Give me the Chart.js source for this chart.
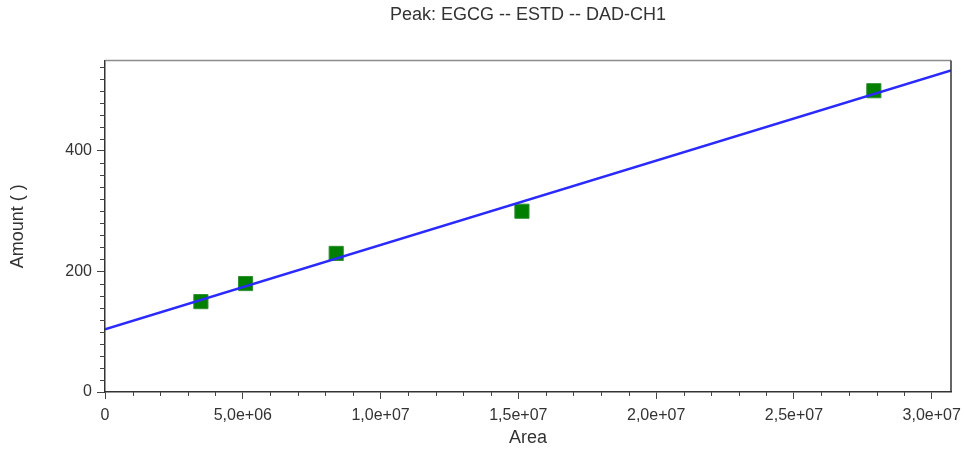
<!DOCTYPE html>
<html>
<head>
<meta charset="utf-8">
<script src="https://cdn.jsdelivr.net/npm/chart.js@4/dist/chart.umd.min.js"></script>
<style>
  html, body { margin: 0; padding: 0; background: #fff; }
  #wrap { width: 964px; height: 450px; }
</style>
</head>
<body>
<div id="wrap"><canvas id="calChart"></canvas></div>
<script>
// calibration points (area vs amount)
const areas = [3.48e6, 5.1e6, 8.39e6, 1.513e7, 2.79e7];
const amounts = [150, 180, 230, 300, 500];
// regression line, read at the two edges of the plot
const fitAreas = [0, 3.07e7];
const fitAmounts = [104, 533.5];
// labelled ticks
const xTicks = [0, 5e6, 1e7, 1.5e7, 2e7, 2.5e7, 3e7];
const xTickLabels = ['0', '5,0e+06', '1,0e+07', '1,5e+07', '2,0e+07', '2,5e+07', '3,0e+07'];
const yTicks = [0, 200, 400];

const xMax = 3.07e7;
const yMax = 550;

const frameAndMinor = {
    id: 'frameAndMinor',
    afterDraw(chart) {
        const ctx = chart.ctx;
        const a = chart.chartArea;
        const xs = chart.scales.x, ys = chart.scales.y;
        ctx.save();
        // top and right frame
        ctx.strokeStyle = '#8c8c8c';
        ctx.lineWidth = 1.5;
        ctx.beginPath();
        ctx.moveTo(a.left, a.top);
        ctx.lineTo(a.right, a.top);
        ctx.stroke();
        ctx.strokeStyle = '#333';
        ctx.beginPath();
        ctx.moveTo(a.right, a.top);
        ctx.lineTo(a.right, a.bottom);
        ctx.stroke();
        // minor ticks
        ctx.strokeStyle = '#444';
        ctx.lineWidth = 1;
        ctx.beginPath();
        for (let v = 1e6; v < xMax; v += 1e6) {
            if (Math.round(v / 1e6) % 5 === 0) continue;
            const px = Math.round(xs.getPixelForValue(v)) + 0.5;
            ctx.moveTo(px, a.bottom);
            ctx.lineTo(px, a.bottom + 4);
        }
        for (let v = 20; v < yMax; v += 20) {
            if (v % 200 === 0) continue;
            const py = Math.round(ys.getPixelForValue(v)) + 0.5;
            ctx.moveTo(a.left, py);
            ctx.lineTo(a.left - 5, py);
        }
        ctx.stroke();
        ctx.restore();
    }
};

const fam = 'Liberation Sans, Arial, sans-serif';
const tickFont = { family: fam, size: 16 };

new Chart(document.getElementById('calChart'), {
    type: 'scatter',
    data: {
        datasets: [{
            type: 'line',
            label: 'fit',
            data: fitAreas.map((x, i) => ({ x: x, y: fitAmounts[i] })),
            borderColor: '#2a2aff',
            borderWidth: 2.5,
            pointRadius: 0,
            fill: false
        }, {
            label: 'EGCG',
            data: areas.map((x, i) => ({ x: x, y: amounts[i] })),
            pointStyle: 'rect',
            pointRadius: 10,
            pointHoverRadius: 10,
            backgroundColor: '#007f00',
            borderColor: '#2f8f2f',
            borderWidth: 1
        }]
    },
    options: {
        responsive: true,
        maintainAspectRatio: false,
        animation: false,
        layout: { padding: { left: 0, right: 13, top: 0, bottom: 0 } },
        scales: {
            x: {
                type: 'linear',
                min: 0,
                max: xMax,
                afterFit: s => { s.height = 58; s.paddingRight = 0; s.paddingLeft = 0; },
                afterBuildTicks: s => { s.ticks = xTicks.map(v => ({ value: v })); },
                ticks: {
                    maxRotation: 0,
                    autoSkip: false,
                    color: '#333',
                    font: tickFont,
                    padding: 7,
                    callback: v => xTickLabels[xTicks.indexOf(v)]
                },
                grid: { drawOnChartArea: false, tickLength: 7, tickColor: '#444' },
                border: { color: '#333', width: 1.5 },
                title: {
                    display: true,
                    text: 'Area',
                    color: '#333',
                    font: { family: fam, size: 18 },
                    padding: { top: 0, bottom: 1 }
                }
            },
            y: {
                min: 0,
                max: yMax,
                afterFit: s => { s.width = 105; s.paddingTop = 0; s.paddingBottom = 0; },
                afterBuildTicks: s => { s.ticks = yTicks.map(v => ({ value: v })); },
                ticks: {
                    color: '#333',
                    font: tickFont,
                    padding: 5
                },
                grid: { drawOnChartArea: false, tickLength: 8, tickColor: '#444' },
                border: { color: '#333', width: 1.5 },
                title: {
                    display: true,
                    text: 'Amount ( )',
                    color: '#333',
                    font: { family: fam, size: 18 },
                    padding: { top: 7, bottom: 0 }
                }
            }
        },
        plugins: {
            legend: { display: false },
            tooltip: { enabled: false },
            title: {
                display: true,
                fullSize: false,
                text: 'Peak: EGCG -- ESTD -- DAD-CH1',
                color: '#333',
                font: { family: fam, size: 18, weight: 'normal' },
                padding: { top: 4, bottom: 35 }
            }
        }
    },
    plugins: [frameAndMinor]
});
</script>
</body>
</html>
